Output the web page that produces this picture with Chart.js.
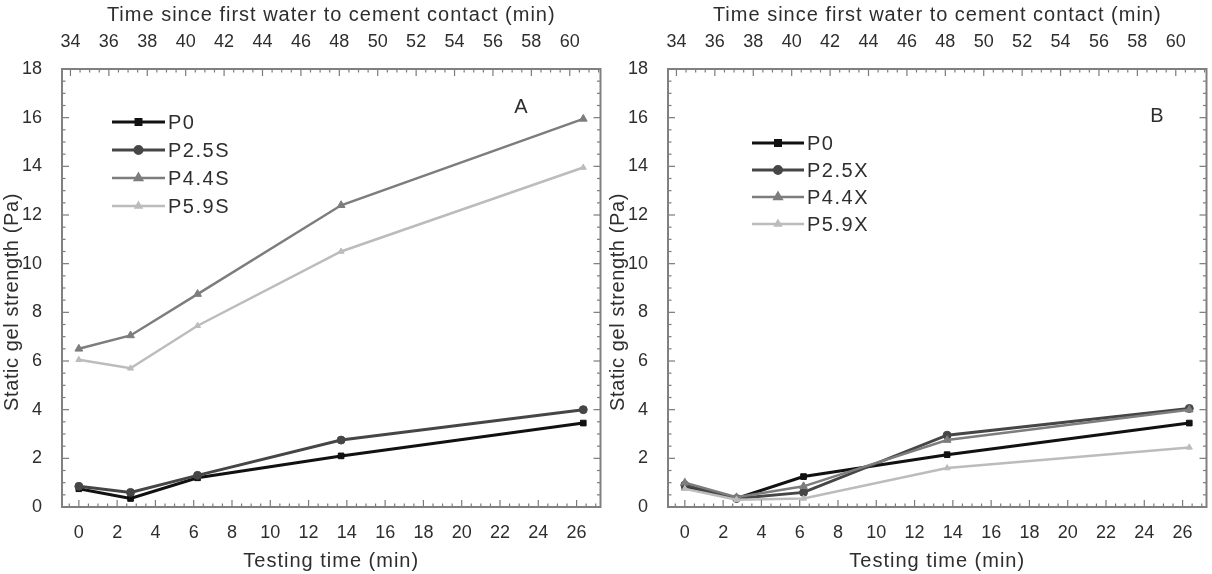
<!DOCTYPE html>
<html>
<head>
<meta charset="utf-8">
<script src="https://cdn.jsdelivr.net/npm/chart.js@4.4.1/dist/chart.umd.min.js"></script>
<style>
  html, body { margin: 0; padding: 0; background: #fff; }
  #wrap { width: 1212px; height: 574px; display: flex; }
  .panel { width: 606px; height: 574px; position: relative; }
  canvas { display: block; }
</style>
</head>
<body>
<div id="wrap">
  <div class="panel"><canvas id="cA" width="606" height="574"></canvas></div>
  <div class="panel"><canvas id="cB" width="606" height="574"></canvas></div>
</div>
<script>
// ---- Data ----
const testingTime = [0, 2.7, 6.2, 13.7, 26.35];

const labelsA = ['P0', 'P2.5S', 'P4.4S', 'P5.9S'];
const A_P0   = [0.75, 0.35, 1.2, 2.1, 3.45];
const A_P25S = [0.85, 0.6, 1.3, 2.75, 4.0];
const A_P44S = [6.5, 7.05, 8.75, 12.4, 15.95];
const A_P59S = [6.05, 5.7, 7.45, 10.5, 13.95];

const labelsB = ['P0', 'P2.5X', 'P4.4X', 'P5.9X'];
const B_P0   = [0.8, 0.35, 1.25, 2.15, 3.45];
const B_P25X = [0.9, 0.35, 0.6, 2.95, 4.05];
const B_P44X = [1.0, 0.4, 0.85, 2.75, 4.0];
const B_P59X = [0.75, 0.3, 0.35, 1.6, 2.45];

const bottomTicks = [0, 2, 4, 6, 8, 10, 12, 14, 16, 18, 20, 22, 24, 26];
const topTicks = [34, 36, 38, 40, 42, 44, 46, 48, 50, 52, 54, 56, 58, 60];
const yTicks = [0, 2, 4, 6, 8, 10, 12, 14, 16, 18];

// ---- Styles ----
const FONT = "'Liberation Sans', Arial, sans-serif";
const TXT = '#2e2e2e';
const styles = [
  { color: '#111111', width: 3,   point: 'rect',     radius: 4 },
  { color: '#464646', width: 3,   point: 'circle',   radius: 4 },
  { color: '#7d7d7d', width: 2.5, point: 'triangle', radius: 4.5 },
  { color: '#bcbcbc', width: 2.5, point: 'triangle', radius: 3.5 }
];

function makeDatasets(labels, series) {
  return series.map((vals, i) => ({
    label: labels[i],
    data: testingTime.map((t, k) => ({ x: t, y: vals[k] })),
    borderColor: styles[i].color,
    backgroundColor: styles[i].color,
    borderWidth: styles[i].width,
    pointStyle: styles[i].point,
    pointRadius: styles[i].radius,
    pointBorderWidth: 1,
    tension: 0,
    order: 4 - i
  }));
}

function spacedTitle(s, px, dx, dy) {
  if (s._spaced) return;
  s._spaced = true;
  const orig = s.drawTitle;
  s.drawTitle = function () {
    const ctx = this.ctx;
    ctx.save();
    ctx.letterSpacing = px;
    ctx.translate(dx || 0, dy || 0);
    orig.apply(this, arguments);
    ctx.restore();
  };
}

// Frame and inward ticks plugin
const framePlugin = {
  id: 'frame',
  afterDatasetsDraw(chart) {
    const { ctx, chartArea: a, scales } = chart;
    ctx.save();
    ctx.strokeStyle = '#7a7a7a';
    ctx.lineWidth = 1.2;
    const xs = scales.x, xt = scales.x2, ys = scales.y;
    for (let v = -0.5; v <= xs.max; v += 0.5) {
      const px = xs.getPixelForValue(v);
      const major = Math.abs(v % 2) < 1e-6;
      ctx.beginPath(); ctx.moveTo(px, a.bottom); ctx.lineTo(px, a.bottom - (major ? 7 : 3.5)); ctx.stroke();
    }
    for (let v = 34; v <= xt.max; v += 0.5) {
      const px = xt.getPixelForValue(v);
      const major = Math.abs(v % 2) < 1e-6;
      ctx.beginPath(); ctx.moveTo(px, a.top); ctx.lineTo(px, a.top + (major ? 7 : 3.5)); ctx.stroke();
    }
    for (let v = 0; v <= 18; v += 0.5) {
      const py = ys.getPixelForValue(v);
      const major = Math.abs(v % 2) < 1e-6;
      const L = major ? 7 : 3.5;
      ctx.beginPath(); ctx.moveTo(a.left, py); ctx.lineTo(a.left + L, py); ctx.stroke();
      ctx.beginPath(); ctx.moveTo(a.right, py); ctx.lineTo(a.right - L, py); ctx.stroke();
    }
    ctx.lineWidth = 2;
    ctx.strokeStyle = '#808080';
    ctx.strokeRect(a.left, a.top, a.right - a.left, a.bottom - a.top);
    ctx.restore();
  }
};

// In-plot legend and panel letter
const legendPlugin = {
  id: 'inLegend',
  afterDraw(chart, args, opts) {
    const { ctx, chartArea: a } = chart;
    ctx.save();
    const x0 = a.left + opts.dx, y0 = a.top + opts.dy;
    chart.data.datasets.forEach((ds, i) => {
      const y = y0 + i * opts.gap;
      ctx.strokeStyle = ds.borderColor;
      ctx.lineWidth = ds.borderWidth;
      ctx.beginPath(); ctx.moveTo(x0, y); ctx.lineTo(x0 + opts.len, y); ctx.stroke();
      ctx.fillStyle = ds.borderColor;
      Chart.helpers.drawPoint(ctx, {
        pointStyle: ds.pointStyle, radius: ds.pointRadius - 0.5, borderWidth: 1, rotation: 0
      }, x0 + opts.len / 2, y);
      ctx.fillStyle = TXT;
      ctx.font = '20px ' + FONT;
      ctx.letterSpacing = '1.5px';
      ctx.textBaseline = 'middle';
      ctx.textAlign = 'left';
      ctx.fillText(ds.label, x0 + opts.len + 3, y + 1);
      ctx.letterSpacing = '0px';
    });
    ctx.font = '20px ' + FONT;
    ctx.fillStyle = TXT;
    ctx.textAlign = 'center';
    ctx.textBaseline = 'middle';
    ctx.fillText(opts.letter, opts.lx, opts.ly);
    ctx.restore();
  }
};

function makeChart(id, labels, series, legendOpts) {
  return new Chart(document.getElementById(id), {
    type: 'line',
    data: { datasets: makeDatasets(labels, series) },
    plugins: [framePlugin, legendPlugin],
    options: {
      responsive: false,
      animation: false,
      events: [],
      layout: { padding: { left: 0, top: 0, bottom: 0, right: 4 } },
      plugins: {
        legend: { display: false },
        tooltip: { enabled: false },
        inLegend: legendOpts
      },
      scales: {
        x: {
          type: 'linear', position: 'bottom', min: -0.88, max: 27.25,
          afterBuildTicks: s => { s.ticks = bottomTicks.map(v => ({ value: v })); },
          afterFit: s => { s.height = 67; spacedTitle(s, '1px'); },
          grid: { display: false }, border: { display: false },
          ticks: { font: { family: FONT, size: 18 }, color: TXT, padding: 7, maxRotation: 0, autoSkip: false },
          title: { display: true, text: 'Testing time (min)', font: { family: FONT, size: 20 }, color: TXT, padding: { top: 0, bottom: 1 } }
        },
        x2: {
          type: 'linear', position: 'top', min: 33.56, max: 61.6,
          afterBuildTicks: s => { s.ticks = topTicks.map(v => ({ value: v })); },
          afterFit: s => { s.height = 69; spacedTitle(s, '1px'); },
          grid: { display: false }, border: { display: false },
          ticks: { font: { family: FONT, size: 18 }, color: TXT, padding: 8, maxRotation: 0, autoSkip: false },
          title: { display: true, text: 'Time since first water to cement contact (min)', font: { family: FONT, size: 20 }, color: TXT, padding: { top: 3, bottom: 0 } }
        },
        y: {
          type: 'linear', position: 'left', min: 0, max: 18,
          afterBuildTicks: s => { s.ticks = yTicks.map(v => ({ value: v })); },
          afterFit: s => { s.width = 62; spacedTitle(s, '0.6px', 0, 14); },
          grid: { display: false }, border: { display: false },
          ticks: { font: { family: FONT, size: 18 }, color: TXT, padding: 12 },
          title: { display: true, text: 'Static gel strength (Pa)', font: { family: FONT, size: 20 }, color: TXT, padding: { top: 0, bottom: 0 } }
        }
      }
    }
  });
}

makeChart('cA', labelsA, [A_P0, A_P25S, A_P44S, A_P59S],
  { dx: 50, dy: 53, gap: 28, len: 53, letter: 'A', lx: 521, ly: 107 });
makeChart('cB', labelsB, [B_P0, B_P25X, B_P44X, B_P59X],
  { dx: 84, dy: 74, gap: 27, len: 52, letter: 'B', lx: 551, ly: 116 });
</script>
</body>
</html>
